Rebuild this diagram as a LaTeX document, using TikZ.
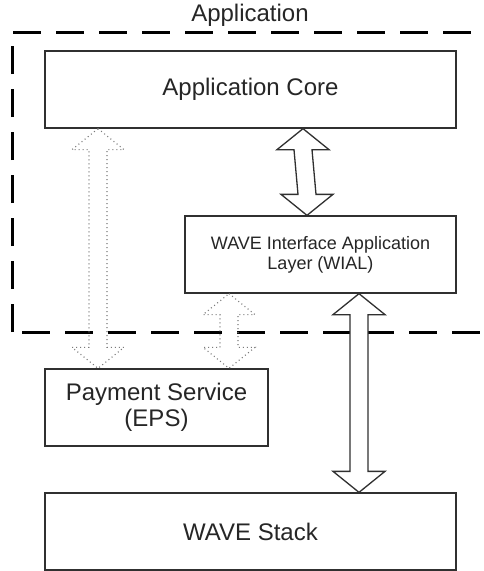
\documentclass[tikz,border=0pt]{standalone}
\usepackage{fontspec}
\setmainfont{Liberation Sans}
\usetikzlibrary{calc}
\definecolor{txt}{HTML}{262626}
\definecolor{ln}{HTML}{303030}
\definecolor{dotc}{HTML}{7A7A7A}
\newcommand\blockarr[3]{\draw[#1] let \p1=(#2), \p2=(#3) in
  (\x1,\y1) -- (\x1+26pt,\y1-21pt) -- (\x1+9pt,\y1-21pt) -- (\x2+9pt,\y2+21pt)
  -- (\x2+26pt,\y2+21pt) -- (\x2,\y2) -- (\x2-26pt,\y2+21pt) -- (\x2-9pt,\y2+21pt)
  -- (\x1-9pt,\y1-21pt) -- (\x1-26pt,\y1-21pt) -- cycle;}
\begin{document}
\begin{tikzpicture}[x=1pt,y=-1pt,
  box/.style={draw=ln,line width=1.3pt,fill=white,inner sep=0pt,text=txt,align=center},
  bigtext/.style={font=\fontsize{24}{26}\selectfont},
  smalltext/.style={font=\fontsize{18}{20}\selectfont},
  solidarr/.style={draw=ln,line width=1.3pt,fill=white,line join=miter},
  dotarr/.style={draw=dotc,line width=1.1pt,dash pattern=on 1pt off 3pt},
  frame/.style={draw=black,line width=3pt,dash pattern=on 28pt off 15pt}]
\useasboundingbox (0,0) rectangle (484,571);
\clip (0,0) rectangle (484,571);
\fill[white] (0,0) rectangle (484,571);
% container
\draw[frame] (12,332) -- (12,32) -- (500,32);
\draw[frame] (22,332) -- (500,332);
\node[text=txt,bigtext] (applbl) at (250,15) {Application};
% boxes
\node[box,bigtext,minimum width=411pt,minimum height=77pt] (core) at (250.5,89.5) {Application Core};
\node[box,smalltext,minimum width=271pt,minimum height=77pt] (wial) at (320.5,254.5) {WAVE Interface Application\\Layer (WIAL)};
\node[box,bigtext,minimum width=223pt,minimum height=77pt] (eps) at (156.5,407.5) {Payment Service\\(EPS)};
\node[box,bigtext,minimum width=411pt,minimum height=77pt] (stack) at (250.5,531.5) {WAVE Stack};
% x positions of connectors
\coordinate (x1t) at (303,0);
\coordinate (x1b) at (307,0);
\coordinate (x2) at (359,0);
\coordinate (x3) at (98,0);
\coordinate (x4) at (229,0);
% connectors
\blockarr{solidarr}{core.south -| x1t}{wial.north -| x1b}
\blockarr{solidarr}{wial.south -| x2}{stack.north -| x2}
\blockarr{dotarr}{core.south -| x3}{eps.north -| x3}
\blockarr{dotarr}{wial.south -| x4}{eps.north -| x4}
\end{tikzpicture}
\end{document}
